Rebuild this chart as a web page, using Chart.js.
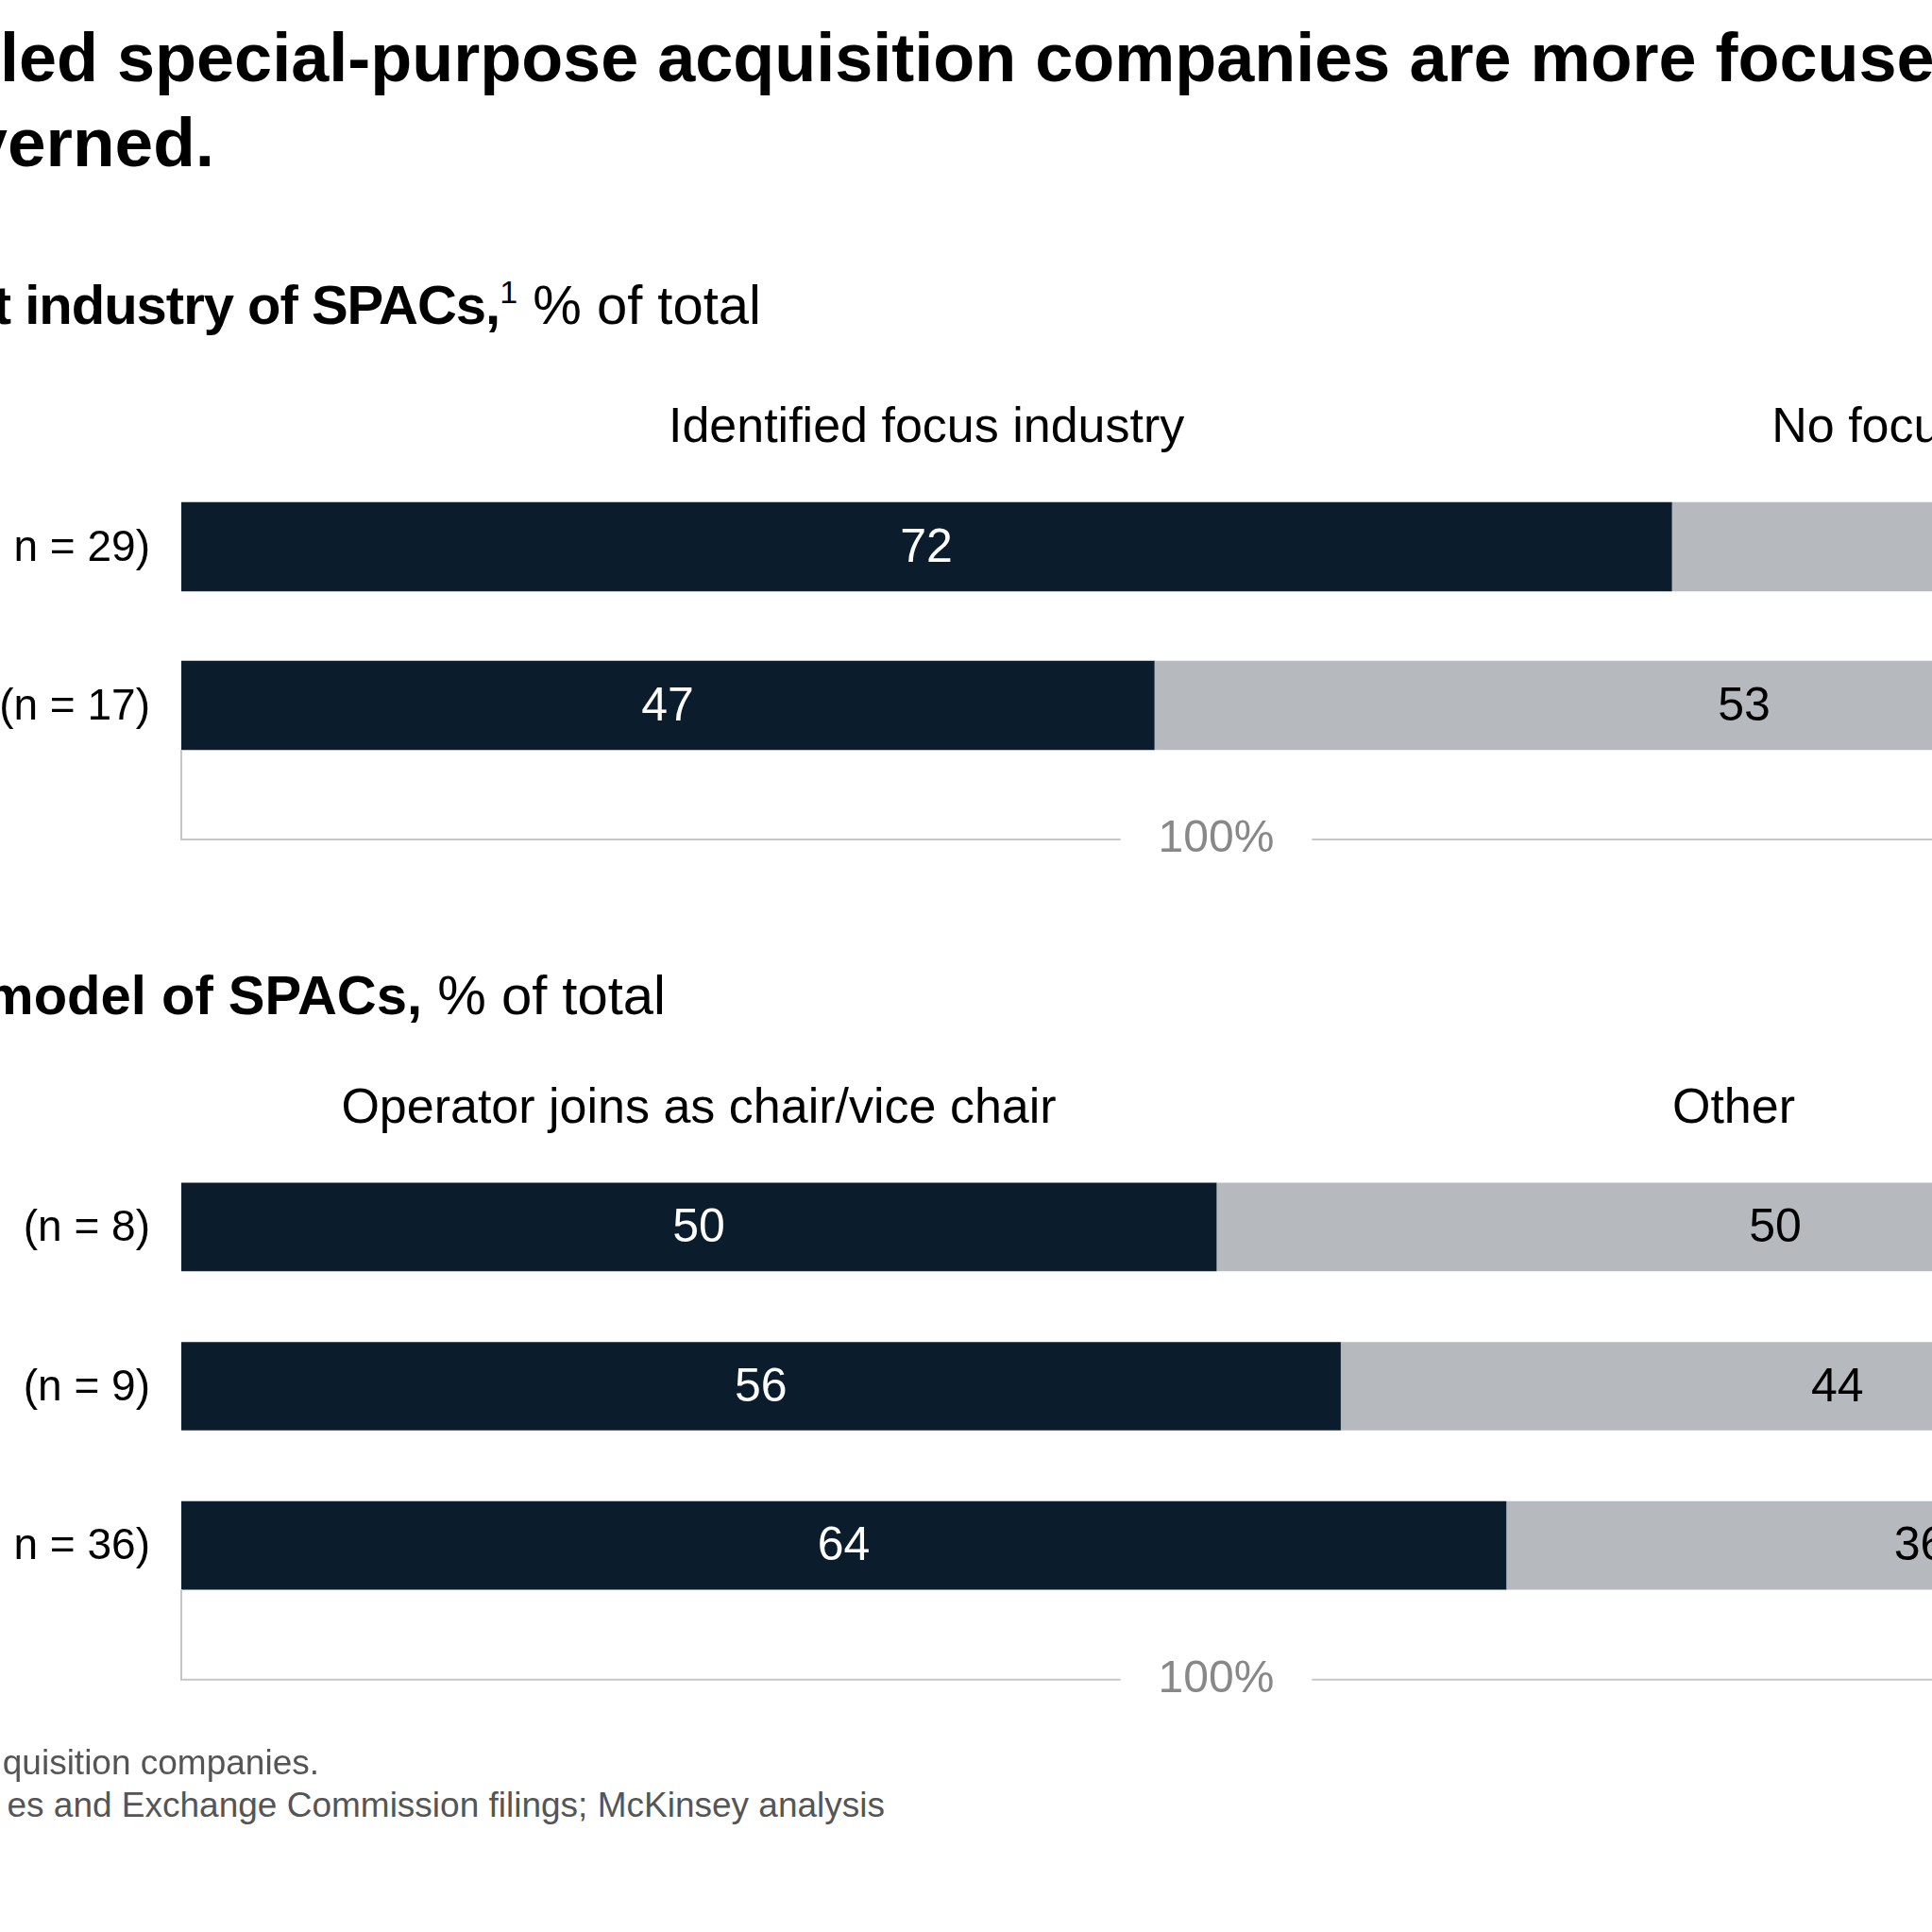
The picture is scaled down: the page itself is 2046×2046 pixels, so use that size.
<!DOCTYPE html>
<html>
<head>
<meta charset="utf-8">
<script src="https://cdn.jsdelivr.net/npm/chart.js@4.4.1/dist/chart.umd.min.js"></script>
<style>
html, body { margin: 0; padding: 0; background: #fff; }
body { width: 2046px; height: 2046px; overflow: hidden; position: relative; font-family: "Liberation Sans", Arial, sans-serif; color: #000; }
.t { position: absolute; white-space: nowrap; line-height: 1; }
canvas { position: absolute; left: 0; }
</style>
</head>
<body>
<div class="t" style="left:0;top:25px;font-size:72px;font-weight:bold;">led special-purpose acquisition companies are more focused</div>
<div class="t" style="right:1819px;top:114px;font-size:73px;font-weight:bold;">verned.</div>

<div class="t" style="right:1240px;top:294px;font-size:58px;"><b style="letter-spacing:-1px;">t industry of SPACs,</b><span style="font-size:34px;position:relative;top:-22px;">1</span> % of total</div>
<div class="t" style="right:1341px;top:1025px;font-size:58px;"><b>model of SPACs,</b> % of total</div>

<canvas id="industry-chart" width="2500" height="600" style="top:400px;width:2500px;height:600px;"></canvas>
<canvas id="governance-chart" width="2500" height="760" style="top:1100px;width:2500px;height:760px;"></canvas>

<div class="t" style="right:1708px;top:1848px;font-size:37px;color:#555;">quisition companies.</div>
<div class="t" style="right:1109px;top:1893px;font-size:37px;color:#555;">es and Exchange Commission filings; McKinsey analysis</div>

<script>
// chart 1: focus industry
var industryRows = ['n = 29)', '(n = 17)'];
var industrySeries = ['Identified focus industry', 'No focus industry'];
var industryFocused = [72, 47];
var industryNoFocus = [28, 53];

// chart 2: governance model
var governanceRows = ['(n = 8)', '(n = 9)', 'n = 36)'];
var governanceSeries = ['Operator joins as chair/vice chair', 'Other'];
var governanceChair = [50, 56, 64];
var governanceOther = [50, 44, 36];

var totalLabel = '100%';

var DARK = '#0b1d2c';
var GREY = '#b6babe';
var FONT = '"Liberation Sans", Arial, sans-serif';

// draws value labels, headers, row labels and the 100% bracket
var annotate = {
    id: 'annotate',
    afterDatasetsDraw: function (chart) {
        var ctx = chart.ctx;
        var area = chart.chartArea;
        var sets = chart.data.datasets;
        var rows = chart.data.labels;
        ctx.save();
        ctx.textBaseline = 'middle';

        sets.forEach(function (set, i) {
            var meta = chart.getDatasetMeta(i);
            ctx.textAlign = 'center';
            ctx.font = '50px ' + FONT;
            ctx.fillStyle = set.labelColor;
            meta.data.forEach(function (bar, j) {
                ctx.fillText(String(set.data[j]), (bar.x + bar.base) / 2 + set.labelShift, bar.y + 2);
            });
            var first = meta.data[0];
            ctx.font = '52px ' + FONT;
            ctx.fillStyle = '#000';
            ctx.fillText(set.label, (first.x + first.base) / 2, first.y - 125);
        });

        var m0 = chart.getDatasetMeta(0);
        ctx.textAlign = 'right';
        ctx.font = '46px ' + FONT;
        ctx.fillStyle = '#000';
        m0.data.forEach(function (bar, j) {
            ctx.fillText(rows[j], area.left - 33, bar.y + 2);
        });

        // bracket under the bars
        var last = m0.data[m0.data.length - 1];
        var top = last.y + last.height / 2;
        var by = last.y + 142;
        var xL = chart.scales.x.getPixelForValue(0);
        var xR = chart.scales.x.getPixelForValue(100);
        var mid = (xL + xR) / 2;
        ctx.font = '48px ' + FONT;
        var w = ctx.measureText(totalLabel).width;
        ctx.strokeStyle = '#c6c6c6';
        ctx.lineWidth = 2;
        ctx.beginPath();
        ctx.moveTo(xL, top); ctx.lineTo(xL, by); ctx.lineTo(mid - w / 2 - 40, by);
        ctx.moveTo(mid + w / 2 + 40, by); ctx.lineTo(xR, by); ctx.lineTo(xR, top);
        ctx.stroke();
        ctx.textAlign = 'center';
        ctx.fillStyle = '#888';
        ctx.fillText(totalLabel, mid, by);
        ctx.restore();
    }
};

function createStackedBar(id, rows, series, first, second, thickness, pad) {
    var ctx = document.getElementById(id);
    return new Chart(ctx, {
        type: 'bar',
        data: {
            labels: rows,
            datasets: [{
                label: series[0],
                data: first,
                backgroundColor: DARK,
                labelColor: '#fff',
                labelShift: 0,
                barThickness: thickness
            }, {
                label: series[1],
                data: second,
                backgroundColor: GREY,
                labelColor: '#000',
                labelShift: 44,
                barThickness: thickness
            }]
        },
        options: {
            indexAxis: 'y',
            responsive: false,
            devicePixelRatio: 1,
            animation: false,
            layout: { padding: pad },
            plugins: { legend: { display: false }, tooltip: { enabled: false } },
            scales: {
                x: { stacked: true, min: 0, max: 100, display: false },
                y: { stacked: true, display: false }
            }
        },
        plugins: [annotate]
    });
}

createStackedBar('industry-chart', industryRows, industrySeries, industryFocused, industryNoFocus, 94,
    { left: 192, right: 116, top: 95, bottom: 169 });
createStackedBar('governance-chart', governanceRows, governanceSeries, governanceChair, governanceOther, 93,
    { left: 192, right: 116, top: 115, bottom: 139 });
</script>
</body>
</html>
